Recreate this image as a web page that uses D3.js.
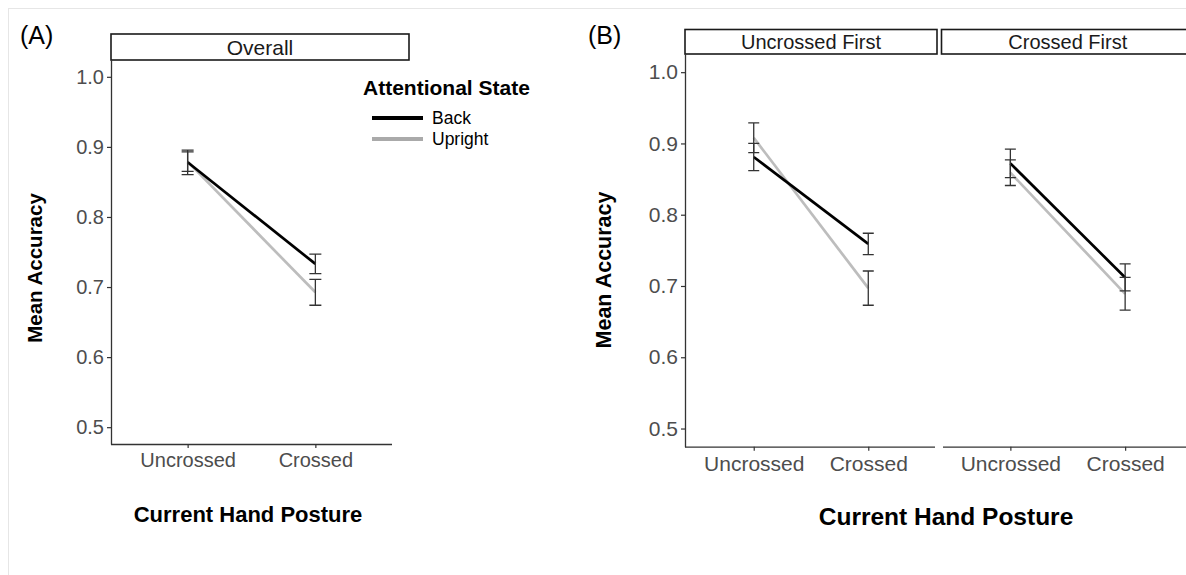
<!DOCTYPE html>
<html lang="en">
<head>
<meta charset="UTF-8">
<title>Mean Accuracy by Hand Posture</title>
<script src="https://cdn.jsdelivr.net/npm/d3@7"></script>
<style>
    body { margin: 0; background: white; }
    svg { display: block; font-family: 'Liberation Sans', Arial, sans-serif; }
</style>
</head>
<body>
<div id="chart"></div>
<script>
    // categories
    const postures = ["Uncrossed", "Crossed"];
    const states = ["Back", "Upright"];
    const yTicks = [0.5, 0.6, 0.7, 0.8, 0.9, 1.0];

    // (A) overall: mean and half error bar, per state, in posture order
    const overallMean = { Back: [0.878, 0.733], Upright: [0.879, 0.6925] };
    const overallErr = { Back: [0.0175, 0.014], Upright: [0.014, 0.0185] };

    // (B) split by first block
    const orderFacets = ["Uncrossed First", "Crossed First"];
    const orderMean = {
        "Uncrossed First": { Back: [0.881, 0.759], Upright: [0.908, 0.697] },
        "Crossed First": { Back: [0.872, 0.712], Upright: [0.859, 0.689] }
    };
    const orderErr = {
        "Uncrossed First": { Back: [0.019, 0.015], Upright: [0.021, 0.024] },
        "Crossed First": { Back: [0.020, 0.019], Upright: [0.018, 0.023] }
    };

    const lineColor = { Back: "#000000", Upright: "#bdbdbd" };
    const legendColor = { Back: "#000000", Upright: "#aaaaaa" };

    const W = 1186, H = 575;
    const svg = d3.select("#chart").append("svg").attr("width", W).attr("height", H);

    // faint frame round the figure
    svg.append("line").attr("x1", 8).attr("x2", W).attr("y1", 8.5).attr("y2", 8.5)
        .attr("stroke", "#e6e6e6").attr("stroke-width", 1);
    svg.append("line").attr("x1", 8.5).attr("x2", 8.5).attr("y1", 8).attr("y2", H)
        .attr("stroke", "#e6e6e6").attr("stroke-width", 1);

    function rows(means, errs) {
        const out = [];
        states.forEach(s => postures.forEach((p, i) => {
            out.push({ state: s, posture: p, mean: means[s][i], err: errs[s][i] });
        }));
        return out;
    }

    // one facet: strip, axes lines, lines and error bars
    function drawPanel(g, opt) {
        const x = d3.scalePoint().domain(postures).range([opt.x0, opt.x1]).padding(0.6);
        const y = opt.y;
        const data = rows(opt.means, opt.errs);

        // strip
        g.append("rect")
            .attr("x", opt.sx0).attr("y", opt.stripTop)
            .attr("width", opt.sx1 - opt.sx0).attr("height", opt.stripBottom - opt.stripTop)
            .attr("fill", "white").attr("stroke", "#1a1a1a").attr("stroke-width", 1.6);
        g.append("text")
            .attr("x", (opt.sx0 + opt.sx1) / 2).attr("y", opt.stripBottom - 5)
            .attr("text-anchor", "middle").attr("font-size", opt.stripFont).attr("fill", "#1a1a1a")
            .text(opt.title);

        // x axis
        const xAxis = g.append("g").attr("transform", `translate(0,${opt.yBottom})`)
            .call(d3.axisBottom(x).tickSize(4).tickPadding(5).tickSizeOuter(0));
        xAxis.select(".domain").attr("d", `M${opt.axisX0},0.5H${opt.axisX1}`)
            .attr("stroke", "#333").attr("stroke-width", 1.3);
        xAxis.selectAll(".tick line").attr("stroke", "#333").attr("stroke-width", 1.2);
        xAxis.selectAll(".tick text").attr("font-size", opt.tickFont).attr("fill", "#4d4d4d")
            .attr("font-family", "'Liberation Sans', Arial, sans-serif");

        // y axis only on first facet
        if (opt.yAxis) {
            const yAxis = g.append("g").attr("transform", `translate(${opt.x0},0)`)
                .call(d3.axisLeft(y).tickValues(yTicks).tickFormat(d3.format(".1f"))
                    .tickSize(4).tickPadding(3).tickSizeOuter(0));
            yAxis.select(".domain").attr("d", `M0.5,${opt.stripBottom}V${opt.yBottom + 0.5}`)
                .attr("stroke", "#333").attr("stroke-width", 1.3);
            yAxis.selectAll(".tick line").attr("stroke", "#333").attr("stroke-width", 1.2);
            yAxis.selectAll(".tick text").attr("font-size", opt.tickFont).attr("fill", "#4d4d4d")
                .attr("font-family", "'Liberation Sans', Arial, sans-serif");
        }

        // lines, gray drawn first
        const line = d3.line().x(d => x(d.posture)).y(d => y(d.mean));
        ["Upright", "Back"].forEach(s => {
            g.append("path")
                .datum(data.filter(d => d.state === s))
                .attr("d", line)
                .attr("fill", "none")
                .attr("stroke", lineColor[s])
                .attr("stroke-width", 2.7);
        });

        // error bars
        const cap = opt.cap / 2;
        const eb = g.append("g").attr("stroke", "#333").attr("stroke-width", 1.3).attr("fill", "none");
        data.forEach(d => {
            const cx = x(d.posture), lo = y(d.mean - d.err), hi = y(d.mean + d.err);
            eb.append("path").attr("d", `M${cx - cap},${hi}H${cx + cap}M${cx},${hi}V${lo}M${cx - cap},${lo}H${cx + cap}`);
        });
    }

    // ---------- Panel A ----------
    const yA = d3.scaleLinear().domain([0.476, 1.024]).range([444, 60]);
    const gA = svg.append("g");
    drawPanel(gA, {
        x0: 111, x1: 392, axisX0: 111, axisX1: 392, sx0: 111, sx1: 409,
        stripTop: 34, stripBottom: 60, yBottom: 444, y: yA, yAxis: true,
        means: overallMean, errs: overallErr, title: "Overall",
        stripFont: 21, tickFont: 20, cap: 12
    });
    svg.append("text").attr("x", 20).attr("y", 44).attr("font-size", 25).attr("fill", "#000").text("(A)");
    svg.append("text").attr("transform", "translate(42,268) rotate(-90)")
        .attr("text-anchor", "middle").attr("font-size", 20.5).attr("font-weight", "bold")
        .text("Mean Accuracy");
    svg.append("text").attr("x", 248).attr("y", 522)
        .attr("text-anchor", "middle").attr("font-size", 22).attr("font-weight", "bold")
        .text("Current Hand Posture");

    // legend
    const legend = svg.append("g");
    legend.append("text").attr("x", 363).attr("y", 95).attr("font-size", 21).attr("font-weight", "bold")
        .text("Attentional State");
    states.forEach((s, i) => {
        const ly = 118 + i * 21;
        legend.append("line").attr("x1", 372).attr("x2", 423).attr("y1", ly).attr("y2", ly)
            .attr("stroke", legendColor[s]).attr("stroke-width", 4);
        legend.append("text").attr("x", 432).attr("y", ly + 6).attr("font-size", 17.5).text(s);
    });

    // ---------- Panel B ----------
    const yB = d3.scaleLinear().domain([0.4745, 1.0255]).range([446.7, 54]);
    const facetX = [[685, 937, 685, 935], [941.5, 1194, 943, 1194]];
    orderFacets.forEach((f, i) => {
        const [a, b, ax0, ax1] = facetX[i];
        drawPanel(svg.append("g"), {
            x0: a, x1: b, axisX0: ax0, axisX1: ax1, sx0: a, sx1: b,
            stripTop: 29.5, stripBottom: 54, yBottom: 446.7, y: yB, yAxis: i === 0,
            means: orderMean[f], errs: orderErr[f], title: f,
            stripFont: 20, tickFont: 21, cap: 11
        });
    });
    svg.append("text").attr("x", 588).attr("y", 44).attr("font-size", 25).attr("fill", "#000").text("(B)");
    svg.append("text").attr("transform", "translate(611,270) rotate(-90)")
        .attr("text-anchor", "middle").attr("font-size", 21.5).attr("font-weight", "bold")
        .text("Mean Accuracy");
    svg.append("text").attr("x", 946).attr("y", 525)
        .attr("text-anchor", "middle").attr("font-size", 24.5).attr("font-weight", "bold")
        .text("Current Hand Posture");
</script>
</body>
</html>
